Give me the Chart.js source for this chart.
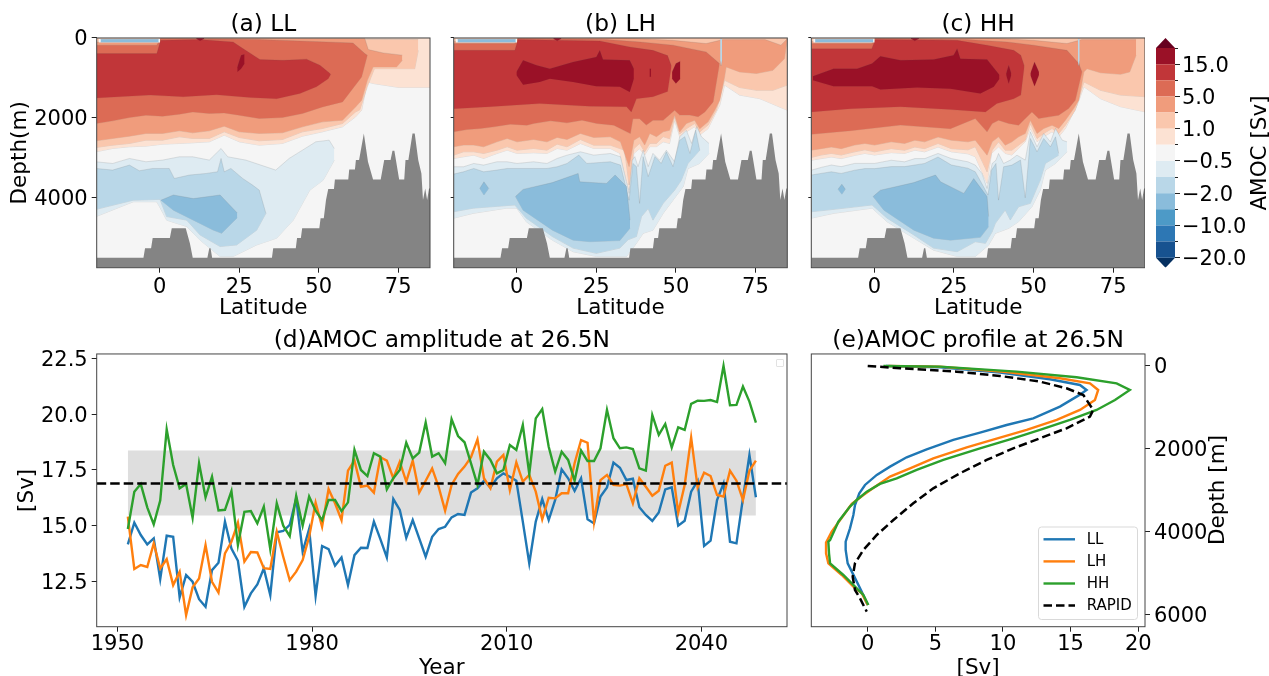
<!DOCTYPE html>
<html>
<head>
<meta charset="utf-8">
<title>AMOC</title>
<script src="https://cdn.jsdelivr.net/npm/chart.js@4/dist/chart.umd.min.js"></script>
<style>
  html, body { margin: 0; padding: 0; background: #fff; overflow: hidden; width: 1269px; height: 676px; }
  canvas { position: absolute; }
  #emptyLegend { position: absolute; left: 776px; top: 359px; width: 6px; height: 6px; border: 1px solid #e2e2e2; border-radius: 1px; }
</style>
</head>
<body>
<canvas id="panelA" width="440" height="330" style="left:0;top:0"></canvas>
<canvas id="panelB" width="360" height="330" style="left:440px;top:0"></canvas>
<canvas id="panelC" width="345" height="330" style="left:800px;top:0"></canvas>
<canvas id="colorbar" width="119" height="300" style="left:1150px;top:0"></canvas>
<canvas id="panelD" width="797" height="380" style="left:0;top:316px"></canvas>
<canvas id="panelE" width="469" height="380" style="left:800px;top:316px"></canvas>
<div id="emptyLegend"></div>
<script>
"use strict"

// ---- tick labels and colour levels
const latTicks = [0, 25, 50, 75];
const depthTicks = [0, 2000, 4000];
const yearTicks = [1950, 1980, 2010, 2040];
const svTicks = [12.5, 15, 17.5, 20, 22.5];
const profileTicks = [0, 5, 10, 15, 20];
const profileDepthTicks = [0, 2000, 4000, 6000];
const cbarLabels = ['\u221220.0', '', '\u221210.0', '', '\u22122.0', '', '\u22120.5', '', '1.0', '', '5.0', '', '15.0', ''];

const C15 = '#9a1127', C10 = '#c13639', C5 = '#dc6b55', C2 = '#f09c7c', C1 = '#fac7ad', C05 = '#fce2d3', C0 = '#f5f5f5';
const N05 = '#deebf2', N1 = '#b9d7e8', N2 = '#8abcdb', N5 = '#4d9ac7', N10 = '#2d77b4', N15 = '#175290';
const cbarColors = [N15, N10, N5, N2, N1, N05, C0, C05, C1, C2, C5, C10, C15];

// ---- sea floor, shared by the three sections: [lat, depth]
const seaFloor = [[-19.8,5500],[-5.1,5500],[-4.6,5265],[-2.7,5265],[-2.2,5007],[3.2,5007],[3.8,4765],[8.2,4765],[9.5,5140],[10.4,5500],[15,5500],[15.6,5265],[16,5265],[16.5,5500],[35.3,5500],[35.7,5265],[42.8,5265],[43.2,5007],[44.4,5007],[44.8,4765],[50.2,4765],[50.6,4515],[51.6,4515],[52.3,4057],[53,3782],[54.8,3782],[55.1,3540],[59.3,3540],[59.6,3290],[61.4,3290],[61.7,3057],[62.7,3057],[64.2,2391],[65.5,3099],[67.1,3540],[69.5,3540],[70.6,3057],[72.6,3057],[73.2,2824],[73.8,2824],[75.3,3540],[76.9,3540],[77.3,3057],[78.2,3057],[79.5,2391],[80.2,2391],[81.3,3057],[82.3,3390],[82.8,4057],[83.5,3765],[84.1,4057],[84.7,3765],[85,3765]];

// ---- features shared by the sections
const surface = [[-19.8,0],[85,0]];
const seaBed = [[-19.8,5750],[85,5750]];
const sliverOuterTop = [[-19.2,20],[0.1,20]];
const sliverOuterBot = [[-19.2,115],[0.1,115]];
const sliverTop = [[-18.6,35],[-0.3,35]];
const sliverBot = [[-18.6,105],[-0.3,105]];
const surfaceSpeckTop = [[11.5,0],[14,0]];
const surfaceSpeckBot = [[11.5,20],[12.7,70],[14,20]];
const stripeTop = [[63.9,20],[64.5,20]];
const stripeBot = [[63.9,560],[64.2,700],[64.5,560]];

// ---- (a) LL contour edges: [lat, depth]
const aPos05Bot = [[-20,2849],[-14.8,2766],[-9.5,2724],[-4.3,2708],[0.9,2658],[6.2,2641],[10.4,2624],[15.6,2599],[20.3,2433],[25,2599],[31.3,2683],[38.6,2641],[44.9,2458],[51.2,2349],[57.5,2224],[61.6,1975],[63.5,1810],[65.3,1100],[67.1,1140],[75.3,1240],[85,1240]];
const aPos1Top = [[-20,0],[81.3,40]];
const aPos1Bot = [[-20,2741],[-14.8,2683],[-9.5,2641],[-4.3,2558],[0.9,2558],[6.2,2474],[10.4,2516],[15.6,2516],[20.3,2349],[25,2491],[31.3,2574],[38.6,2541],[44.9,2349],[51.2,2266],[57.5,2141],[61.6,1850],[62.9,1800],[65.3,1220],[67.5,770],[80.2,770],[81.3,310]];
const aPos2Top = [[-20,100],[-0.9,100],[0.3,0],[64.5,15],[65.6,290],[70.3,375],[76.3,430]];
const aPos2Bot = [[-20,2574],[-14.8,2516],[-9.5,2458],[-4.3,2391],[0.9,2391],[6.2,2324],[10.4,2374],[15.6,2324],[20.3,2208],[25,2349],[31.3,2391],[38.6,2374],[44.9,2224],[51.2,2100],[57.5,2058],[61.6,1725],[63.5,1560],[65.3,1060],[67.1,725],[74.5,725],[76.3,560]];
const aPos5Top = [[-20,180],[-0.9,180],[0.3,10],[31.5,40],[44.1,75],[60.8,125],[64.5,390],[65.3,430]];
const aPos5Bot = [[-20,2141],[-14.8,2074],[-9.5,1991],[-4.3,1933],[0.9,1958],[6.2,1908],[10.4,1850],[15.6,1891],[20.3,1875],[25,1933],[31.3,2016],[38.6,1991],[44.9,1891],[51.2,1725],[57.5,1600],[63.5,975],[65.3,430]];
const aPos10Top = [[-20,390],[-0.9,390],[0.3,60],[12.7,40],[23.1,100],[26.3,270],[31.5,540],[38.8,560],[46.2,530],[50.4,680],[53,850],[53.8,910]];
const aPos10Bot = [[-20,1500],[-3,1430],[7.4,1470],[17.9,1420],[28.4,1490],[36.8,1520],[44.1,1390],[49.3,1220],[53,1020],[53.8,910]];
const aPos15Top = [[24.4,730],[25.6,430],[26.7,410]];
const aPos15Bot = [[24.4,850],[25.6,770],[26.7,640]];
const aNeg05Top = [[-20,3099],[-14.8,3141],[-9.5,3016],[-4.3,3099],[0.9,3057],[6.2,2974],[10.4,2974],[15.6,3057],[19.3,2766],[21.4,2974],[27.1,3057],[36.5,3307],[40.7,3016],[44.9,2808],[49.1,2599],[53.3,2558],[54.9,2766]];
const aNeg05Bot = [[-20,4470],[-8.3,4100],[-0.9,4100],[1.1,4390],[2.2,4560],[8.5,4720],[12.7,5060],[19,5470],[23.1,5470],[30.5,5180],[36.8,5010],[42,4560],[47.2,3810],[51.4,3560],[54.9,3060]];
const aNeg1Top = [[-20,3266],[-14.8,3307],[-9.5,3182],[-6.4,3324],[-2.2,3266],[3,3266],[4.6,3516],[9.3,3432],[14.6,3391],[18.2,3349],[19.3,3016],[20.3,3349],[22.4,3266],[26.1,3516],[29.2,3682],[31.3,3807],[33.4,4390]];
const aNeg1Bot = [[-20,4290],[-8.3,4060],[0.1,4040],[2.2,4470],[8.5,4560],[12.7,4930],[19,5220],[24.2,5180],[30.5,4810],[33.4,4390]];
const aNeg2Top = [[0.4,4060],[4.3,3930],[10.6,4020],[19,3930],[24.4,4380]];
const aNeg2Bot = [[0.4,4060],[4.3,4310],[10.6,4560],[16.9,4810],[19.5,4890],[24.4,4500]];

// ---- (b) LH contour edges
const bPos05Bot = [[-19.8,3016],[-16.7,2974],[-13.5,2933],[-10.4,3016],[-6.2,2891],[-3,2808],[0.1,2891],[5.3,2874],[9.5,2891],[12.7,2766],[15.8,2808],[20,2641],[24.2,2766],[29.4,2766],[32.4,2890],[35.3,3810],[36.8,2890],[38.6,2770],[40.2,2930],[41.8,2720],[43.9,2720],[46,2600],[48,2640],[49.6,2060],[51.2,2470],[53.3,2350],[55.9,2220],[57.5,2430],[60.1,2270],[63.8,1680],[65.3,1180],[70,1430],[76.4,1520],[85,1810]];
const bPos1Bot = [[-19.8,2933],[-16.7,2849],[-13.5,2849],[-10.4,2891],[-6.2,2808],[-3,2724],[0.1,2808],[5.3,2766],[9.5,2808],[12.7,2658],[15.8,2724],[20,2541],[24.2,2683],[29.4,2683],[33.9,2810],[35.3,3680],[36.8,2770],[38.6,2640],[40.2,2850],[41.8,2640],[43.9,2640],[46,2470],[48,2520],[49.6,1970],[51.2,2400],[53.3,2270],[55.9,2140],[57.5,2350],[60.1,2180],[62.7,1810],[65.3,1060],[70,1240],[75.3,1310],[80.5,1310],[85,1180]];
const bPos2Top = [[-19.8,90],[-0.6,90],[0.4,0],[33.4,0],[49.1,60],[59.5,140],[64.8,40],[78,40],[83,180],[85,20]];
const bPos2Bot = [[-19.8,2724],[-16.7,2680],[-13.5,2680],[-10.4,2724],[-6.2,2600],[-3,2516],[0.1,2600],[5.3,2540],[9.5,2600],[12.7,2490],[15.8,2540],[20,2391],[24.2,2490],[29.4,2474],[32.6,2600],[35.3,3220],[36.8,2560],[38.6,2470],[40.2,2680],[41.8,2390],[43.9,2470],[46,2350],[48,2310],[49.6,1930],[51.2,2350],[53.3,2140],[55.9,2060],[57.5,2270],[60.1,2100],[62.2,1810],[63.8,1558],[65.3,970],[65.8,725],[70,850],[75.3,890],[80.5,810],[84.1,520],[85,20]];
const bPos5Top = [[-19.8,140],[-0.6,140],[0.4,0],[28.2,40],[38.8,100],[49.1,180],[59.5,350],[63.7,640]];
const bPos5Bot = [[-19.8,2350],[-15.6,2291],[-11.4,2266],[-7.2,2224],[-2,2158],[3.2,2183],[5.3,2141],[10.6,2075],[15.8,2124],[20.5,2058],[25.2,2141],[30.5,2183],[34.6,2350],[35.7,2390],[36.5,2020],[38.6,2020],[40.7,2180],[42.8,2060],[46,2060],[49.6,1810],[51.2,1930],[54.4,1930],[57,1970],[59.1,1850],[61.7,1600],[63.7,640]];
const bPos10Top = [[-19.8,310],[-0.6,310],[0.4,40],[26.1,75],[35.5,225],[42.8,310],[47.4,440],[48.6,700]];
const bPos10Bot = [[-19.8,1770],[-8.5,1720],[7.2,1640],[22.9,1710],[34.5,1720],[36,1850],[37.6,1520],[42.8,1470],[47.4,1340],[48.6,700]];
const bPos15Top = [[-0.1,850],[2,560],[6.2,680],[10.4,770],[17.7,600],[25,475],[26.1,310],[27.1,540],[35.5,560],[36.8,770]];
const bPos15Bot = [[-0.1,930],[2,1170],[7.2,1100],[10.4,1020],[17.7,1100],[25,1210],[32.4,1220],[35.5,1350],[36.8,1020]];
const bSpotTop = [[48.8,850],[50,640],[51.4,580]];
const bSpotBot = [[48.8,1020],[50,1140],[51.4,1020]];
const bSpeckTop = [[41.7,770],[42.2,770]];
const bSpeckBot = [[41.7,970],[42.2,970]];
const bNeg05Top = [[-19.8,3224],[-16.7,3224],[-13.5,3141],[-10.4,3182],[-6.2,3099],[-3,3099],[0.1,3141],[5.3,3099],[9.5,3141],[12.7,3016],[15.8,2933],[20,2849],[24.2,2933],[29.4,2891],[32.6,2974],[35.3,3890],[36.3,3060],[37.1,2970],[38.1,3220],[39.7,2810],[41.3,3220],[42.8,2890],[44.9,3060],[47,2810],[49.6,3100],[51.2,2470],[53.3,2310],[54.9,2640],[56.6,2220],[58,2470],[60.4,2640]];
const bNeg05Bot = [[-19.8,4510],[-13.7,4390],[-3.2,4260],[0,4260],[3,4600],[11.2,5060],[17.7,5350],[25,5470],[34.5,5470],[37.6,5140],[39.7,4890],[42.8,4810],[46,4390],[49.1,4060],[52.3,3720],[53.8,3270],[57.5,3140],[60.4,2890]];
const bNeg1Top = [[-19.8,3407],[-16.7,3349],[-13.5,3266],[-10.4,3349],[-6.2,3307],[-3,3266],[0.1,3266],[5.3,3266],[9.5,3266],[12.7,3224],[15.8,3141],[19.5,2932],[22,3141],[29.4,3099],[32.6,3182],[35.3,4060],[36.5,3140],[37.6,3220],[38.6,4140],[39.7,2970],[41.3,3470],[43.4,2970],[45.4,3140],[47,2850],[49.1,3220],[51.2,2560],[52.8,2470],[54.4,2890],[56.2,2310],[57.5,2810]];
const bNeg1Bot = [[-19.8,4350],[-13.7,4260],[-0.6,4180],[3,4510],[11.2,4970],[17.7,5260],[25,5390],[32.4,5260],[35,5050],[37.6,4970],[39.2,4470],[41.3,4270],[42.8,4560],[46,4140],[49.6,3810],[51.7,3560],[53.8,3140],[57.5,2810]];
const bNeg2Top = [[-0.4,3970],[2,3790],[11.2,3620],[19.3,3390],[19.8,3600],[28.2,3640],[30.9,3430],[34.5,3720],[35.6,4560]];
const bNeg2Bot = [[-0.4,3970],[2,4310],[11.2,4810],[17.7,5060],[23,5100],[32.4,5070],[35.6,4760]];
const bDiamondTop = [[-11.6,3765],[-10.3,3600],[-8.8,3765]];
const bDiamondBot = [[-11.6,3765],[-10.3,3930],[-8.8,3765]];

// ---- (c) HH contour edges
const cPos05Bot = [[-19.8,3060],[-16.7,3020],[-13.5,2980],[-10.4,3020],[-6.2,2940],[-3,2890],[0.1,2930],[5.3,2870],[9.5,2890],[12.7,2810],[15.8,2850],[20,2730],[24.2,2850],[29.4,2900],[31.7,2974],[35.4,3640],[36.8,2891],[39,2724],[41.1,2891],[43.2,2930],[45.3,2766],[47.4,2599],[49,2266],[51.1,2599],[53.2,2474],[55.8,2349],[57.9,2474],[60,2266],[63.7,1683],[65.8,1220],[71,1520],[77.3,1720],[85,1850]];
const cPos1Bot = [[-19.8,2990],[-16.7,2930],[-13.5,2890],[-10.4,2930],[-6.2,2850],[-3,2800],[0.1,2850],[5.3,2770],[9.5,2810],[12.7,2730],[15.8,2770],[20,2640],[24.2,2770],[29.4,2800],[31.7,2724],[35.4,3349],[37,2808],[39,2600],[41.1,2808],[43.2,2808],[45.3,2683],[47.4,2558],[49,2141],[51.1,2516],[53.2,2391],[55.8,2266],[57.9,2391],[60,2183],[63.1,1810],[65.8,1100],[71,1310],[77.3,1430],[85,1470]];
const cPos2Top = [[-19.8,90],[-0.8,90],[0.3,0],[35.4,0],[50,60],[60.5,140],[65.2,40],[75,40],[82.2,40]];
const cPos2Bot = [[-19.8,2810],[-16.7,2770],[-13.5,2730],[-10.4,2770],[-6.2,2680],[-3,2640],[0.1,2680],[5.3,2600],[9.5,2640],[12.7,2560],[15.8,2600],[20,2480],[24.2,2560],[29.4,2600],[31.7,2558],[35.4,2933],[37,2600],[39,2474],[41.1,2683],[43.2,2600],[45.3,2474],[47.4,2391],[49,2058],[51.1,2391],[53.2,2266],[55.8,2183],[57.9,2266],[60,2058],[62.6,1766],[64.2,1558],[65.8,850],[66.8,770],[71,870],[77.3,910],[80.2,850],[82.2,430]];
const cPos5Top = [[-19.8,140],[-0.8,140],[0.3,0],[29.1,40],[41.7,100],[50,180],[60.5,310],[64.2,640],[65.2,850]];
const cPos5Bot = [[-19.8,2410],[-7.5,2320],[8.2,2180],[23.9,2270],[31.7,2016],[35.4,2349],[37,2141],[39,2058],[42.2,2141],[45.3,2183],[47.4,2016],[49.5,1850],[51.6,2016],[54.8,1975],[57.9,1933],[61,1766],[63.1,1558],[65.2,850]];
const cPos10Top = [[-19.8,270],[-0.8,270],[0.3,40],[26,60],[35.4,180],[43.8,310],[46,430],[47.1,700]];
const cPos10Bot = [[-19.8,1850],[-7.5,1770],[8.2,1720],[23.9,1790],[34.9,1850],[38.5,1640],[43.8,1520],[46,1430],[47.1,700]];
const cPos15Top = [[-19.3,960],[-12.8,770],[-5.4,770],[-0.7,640],[1.9,460],[8.2,560],[18.6,540],[24.9,430],[26,270],[27,520],[35.4,540],[39.3,930]];
const cPos15Bot = [[-19.3,1060],[-12.8,1210],[-5.4,1210],[-0.7,1210],[1.9,1290],[13.4,1240],[23.9,1270],[33.3,1390],[37.5,1220],[39.3,1020]];
const cSpotATop = [[41.4,890],[42.2,680],[43,890]];
const cSpotABot = [[41.4,930],[42.2,1140],[43,930]];
const cSpotBTop = [[49,890],[50.3,600],[51.7,850]];
const cSpotBBot = [[49,930],[50.3,1210],[51.7,930]];
const cNeg05Top = [[-19.8,3310],[-16.7,3240],[-13.5,3180],[-10.4,3220],[-6.2,3140],[-3,3140],[0.1,3140],[5.3,3060],[9.5,3100],[12.7,3020],[15.8,3020],[20,2890],[24.2,3020],[29.4,3100],[31.7,3182],[33.8,3391],[35.4,3766],[37,3141],[38.2,3060],[39,2891],[40.6,3141],[42.7,3057],[44.8,2933],[47.4,3057],[49,2349],[51.1,2724],[53.2,2391],[55.3,2600],[56.9,2266],[59,2558],[60.5,2600]];
const cNeg05Bot = [[-19.8,4510],[-12.8,4390],[-0.7,4260],[4,4600],[12.4,5010],[18.6,5310],[26,5470],[31.7,5470],[35.9,5182],[38,4890],[42.2,4765],[45.3,4599],[49.5,4224],[52.1,3807],[53.7,3307],[56.9,3141],[60.5,2849]];
const cNeg1Top = [[-19.8,3430],[-16.7,3390],[-13.5,3350],[-10.4,3390],[-6.2,3310],[-3,3270],[0.1,3270],[5.3,3220],[9.5,3220],[12.7,3180],[15.8,3140],[20,2980],[24.2,3180],[29.4,3260],[31.7,3349],[34.3,3724],[35.7,3932],[36.8,3307],[38.2,3141],[39,4057],[40.6,3224],[43.2,3182],[45.9,3057],[47.4,4000],[49,2516],[51.1,2849],[53.2,2516],[55.3,2724],[56.9,2474],[57.9,2891]];
const cNeg1Bot = [[-19.8,4350],[-12.8,4290],[-0.7,4180],[4,4510],[12.4,4930],[18.6,5260],[26,5350],[31.7,5100],[34.9,5140],[37,4849],[38,4640],[41.1,4307],[42.7,4557],[45.3,4224],[49,4140],[52.1,3558],[53.7,3141],[57.9,2933]];
const cNeg2Top = [[-0.4,3970],[1.9,3810],[12.4,3620],[19.2,3430],[20.8,3600],[28.1,3890],[31.2,3520],[35.4,3970],[35.9,4470]];
const cNeg2Bot = [[-0.4,3970],[3,4310],[12.4,4810],[18.6,5010],[23.9,5060],[33.3,4990],[35.9,4720]];
const cDiamondTop = [[-11.4,3785],[-10.2,3660],[-9.1,3785]];
const cDiamondBot = [[-11.4,3785],[-10.2,3910],[-9.1,3785]];

// ---- (d) amplitude time series
const firstYear = 1951.6;
const amocLL = [14.17,15.14,14.59,14.17,14.44,12.62,14.56,14.51,11.80,12.80,12.50,11.72,11.38,13.02,13.35,15.19,13.99,13.44,11.38,11.98,12.38,13.10,11.90,14.71,14.77,15.04,16.23,13.84,14.86,11.87,14.10,13.96,13.22,13.59,12.35,13.69,14.02,14.01,15.19,14.41,13.59,16.20,15.71,14.47,15.26,14.44,13.62,14.51,14.86,14.96,15.38,15.53,15.49,16.49,16.68,17.02,16.72,17.13,17.35,17.20,17.02,15.19,13.32,15.19,16.20,15.26,16.16,17.53,17.13,16.57,17.13,15.29,15.11,16.31,16.72,17.83,17.60,17.05,17.11,15.83,15.49,15.22,15.60,16.63,16.72,15.01,15.23,16.53,17.01,14.10,14.34,16.16,16.90,14.29,14.22,16.23,18.17,16.28];
const amocLH = [15.41,13.07,13.25,13.16,14.22,13.10,13.51,12.35,12.95,11.01,12.25,12.65,14.14,12.50,12.02,13.77,14.29,15.14,13.40,13.83,13.81,13.11,13.07,14.74,13.62,12.57,12.95,13.47,14.51,16.04,14.96,16.65,16.01,15.26,17.47,17.92,16.75,16.80,16.49,18.07,17.92,17.13,17.87,16.98,17.92,16.49,17.02,17.57,16.75,15.68,16.83,17.32,17.65,18.07,18.87,17.13,16.68,17.87,18.17,16.60,17.84,16.98,17.28,16.53,15.29,16.26,16.23,16.46,16.46,17.80,18.84,18.72,15.19,17.05,17.28,16.83,16.80,16.87,16.01,17.13,16.75,16.35,16.57,17.69,17.83,15.59,16.83,18.95,16.72,17.38,17.23,16.38,16.31,17.47,17.02,16.16,17.47,17.92];
const amocHH = [14.86,16.53,16.87,15.83,15.07,16.13,19.32,17.72,16.68,16.87,15.37,17.80,16.28,17.20,15.69,15.72,16.56,14.14,15.63,15.66,15.11,15.86,13.96,16.01,15.01,14.54,16.34,15.01,16.31,15.68,15.26,16.16,16.16,15.66,16.05,18.40,17.50,17.23,18.25,18.10,16.63,17.13,17.50,18.72,18.02,18.28,19.62,18.10,18.25,17.80,19.77,19.02,18.74,17.80,16.83,18.32,17.95,17.35,17.50,18.62,18.40,19.51,17.32,19.81,20.22,18.54,17.43,18.32,17.95,17.02,18.37,17.90,17.90,18.47,20.19,18.92,18.47,18.51,18.44,17.57,17.47,19.96,19.07,19.56,18.50,19.41,19.29,20.46,20.60,20.59,20.63,20.54,22.16,20.40,20.41,21.23,20.56,19.62];
const rapidMean = 16.9;
const rapidLow = 15.46;
const rapidHigh = 18.37;

// ---- (e) profiles at 26.5N
const profileLL = [1.35,5.34,9.78,13.47,15.69,16.18,15.57,14.21,12.24,10.27,8.30,6.33,4.36,2.88,1.65,0.67,-0.20,-0.62,-0.94,-1.06,-1.31,-1.63,-1.63,-1.48,-0.99,-0.44,0];
const depthLL = [0,32,161,321,458,578,715,980,1261,1422,1606,1783,2008,2201,2426,2626,2867,3068,3349,3590,3912,4233,4434,4755,5076,5438,5759];
const profileLH = [1.53,5.34,10.27,14.21,16.43,17.04,16.80,15.69,13.97,11.75,9.78,7.32,4.85,3.13,1.65,0.54,-0.32,-1.18,-2.04,-2.66,-3.08,-3.08,-2.91,-1.92,-1.06,-0.44,0];
const depthLH = [0,16,145,297,418,578,819,1060,1301,1542,1727,1960,2225,2466,2666,2908,3108,3325,3711,3992,4257,4514,4755,5036,5317,5478,5759];
const profileHH = [1.16,5.34,11.01,15.44,18.40,19.38,18.28,16.92,14.95,12.73,10.76,8.30,5.59,3.62,2.14,0.91,-0.07,-0.81,-1.31,-2.17,-2.78,-2.91,-2.86,-2.78,-1.80,-0.94,-0.32,0.05];
const depthHH = [0,16,137,273,418,578,819,1060,1301,1542,1743,1984,2265,2506,2707,2843,3028,3229,3389,3751,4193,4233,4514,4755,5036,5317,5518,5759];
const profileRapid = [0,2.39,6.58,9.78,12.73,14.70,15.94,16.67,16.43,14.70,12.73,10.76,8.79,6.82,4.85,3.37,1.90,0.67,-0.32,-0.94,-1.11,-0.94,-0.57,-0.07];
const depthRapid = [0,56,137,241,377,538,699,1060,1221,1502,1743,1984,2265,2586,2948,3309,3711,4072,4434,4755,5076,5397,5598,5920];

const BLUE = '#1f77b4', ORANGE = '#ff7f0e', GREEN = '#2ca02c';
const FONT = 'DejaVu Sans';
const SPINE = '#444';
const TICK_SIZE = 21, LABEL_SIZE = 21.5, TITLE_SIZE = 23.3;
const LINE_W = 2.4;

Chart.defaults.font.family = FONT;
Chart.defaults.color = '#000';

const pts = arr => arr.map(p => ({x: p[0], y: p[1]}));
const zip = (xs, ys) => xs.map((x, i) => ({x: x, y: ys[i]}));

// black frame round the plot, and the upward reading label on right hand axes
const framePlugin = {
  id: 'frame',
  afterDraw(chart) {
    const a = chart.chartArea, ctx = chart.ctx;
    ctx.save();
    ctx.strokeStyle = SPINE;
    ctx.lineWidth = 1;
    ctx.strokeRect(a.left, a.top, a.right - a.left, a.bottom - a.top);
    ctx.restore();
  }
};
const sideLabel = (text, x, y) => ({
  id: 'sideLabel',
  afterDraw(chart) {
    const ctx = chart.ctx;
    ctx.save();
    ctx.translate(x, y);
    ctx.rotate(-Math.PI / 2);
    ctx.font = LABEL_SIZE + 'px "' + FONT + '"';
    ctx.fillStyle = '#000';
    ctx.textAlign = 'center';
    ctx.textBaseline = 'middle';
    ctx.fillText(text, 0, 0);
    ctx.restore();
  }
});

const titleOpts = text => ({
  display: true, text: text, fullSize: false,
  font: {size: TITLE_SIZE, weight: 'normal'},
  padding: {top: 11, bottom: -1}
});
const fixedTicks = values => scale => { scale.ticks = values.map(v => ({value: v})); };
const gridOpts = {display: true, drawOnChartArea: false, drawTicks: true, tickLength: 5, tickColor: '#222', color: '#222'};
const tickFont = {size: TICK_SIZE};

// bands are listed back to front; chart.js paints dataset 0 last, so they are pushed reversed
function sectionDatasets(bands) {
  let sets = [{
    data: pts(seaFloor), backgroundColor: '#848484', borderWidth: 0, pointRadius: 0,
    fill: {value: 5750}, showLine: true
  }];
  bands.slice().reverse().forEach(band => {
    const edge = band[0] == C0 ? 'rgba(0,0,0,0)' : band[0] == C15 || band[0] == C10 ? 'rgba(90,90,90,0.25)' : 'rgba(110,110,110,0.35)';
    sets.push({data: pts(band[1]), backgroundColor: band[0], borderColor: edge, borderWidth: 0.5, pointRadius: 0, fill: '+1', showLine: true});
    sets.push({data: pts(band[2]), borderColor: edge, borderWidth: 0.5, pointRadius: 0, fill: false, showLine: true});
  });
  return sets;
}

function sectionChart(id, title, leftWidth, rightPad, bands, showDepth) {
  return new Chart(document.getElementById(id), {
    type: 'scatter',
    data: {datasets: sectionDatasets(bands)},
    plugins: [framePlugin],
    options: {
      responsive: false, animation: false,
      layout: {padding: {right: rightPad}},
      plugins: {legend: {display: false}, tooltip: {enabled: false}, title: titleOpts(title)},
      scales: {
        x: {
          type: 'linear', min: -19.8, max: 85,
          afterBuildTicks: fixedTicks(latTicks),
          afterFit: s => { s.height = 62.3; },
          grid: gridOpts, border: {display: false},
          ticks: {font: tickFont, padding: 2, autoSkip: false, maxRotation: 0, callback: v => String(v)},
          title: {display: true, text: 'Latitude', font: {size: LABEL_SIZE}, padding: {top: 0, bottom: 9}}
        },
        y: {
          type: 'linear', min: 0, max: 5750, reverse: true,
          afterBuildTicks: fixedTicks(depthTicks),
          afterFit: s => { s.width = leftWidth; },
          grid: Object.assign({}, gridOpts, {tickLength: showDepth ? 5 : 3}), border: {display: false},
          ticks: {font: tickFont, padding: 4, labelOffset: 2, autoSkip: false, display: showDepth, callback: v => String(v)},
          title: {display: showDepth, text: 'Depth(m)', font: {size: LABEL_SIZE}, padding: {top: 8, bottom: 0}}
        }
      }
    }
  });
}

const sliverBands = [[C0, sliverOuterTop, sliverOuterBot], [N2, sliverTop, sliverBot], [C15, surfaceSpeckTop, surfaceSpeckBot]];
const stripeBands = [[N1, stripeTop, stripeBot]];

sectionChart('panelA', '(a) LL', 96.7, 10, [
  [C0, surface, seaBed],
  [C05, surface, aPos05Bot], [C1, aPos1Top, aPos1Bot], [C2, aPos2Top, aPos2Bot], [C5, aPos5Top, aPos5Bot],
  [C10, aPos10Top, aPos10Bot], [C15, aPos15Top, aPos15Bot],
  [N05, aNeg05Top, aNeg05Bot], [N1, aNeg1Top, aNeg1Bot], [N2, aNeg2Top, aNeg2Bot]
].concat(sliverBands), true);
sectionChart('panelB', '(b) LH', 13.7, 12.7, [
  [C0, surface, seaBed],
  [C05, surface, bPos05Bot], [C1, surface, bPos1Bot], [C2, bPos2Top, bPos2Bot], [C5, bPos5Top, bPos5Bot],
  [C10, bPos10Top, bPos10Bot], [C15, bPos15Top, bPos15Bot], [C15, bSpotTop, bSpotBot], [C15, bSpeckTop, bSpeckBot],
  [N05, bNeg05Top, bNeg05Bot], [N1, bNeg1Top, bNeg1Bot], [N2, bNeg2Top, bNeg2Bot], [N2, bDiamondTop, bDiamondBot]
].concat(stripeBands, sliverBands), false);
sectionChart('panelC', '(c) HH', 11.3, 0, [
  [C0, surface, seaBed],
  [C05, surface, cPos05Bot], [C1, surface, cPos1Bot], [C2, cPos2Top, cPos2Bot], [C5, cPos5Top, cPos5Bot],
  [C10, cPos10Top, cPos10Bot], [C15, cPos15Top, cPos15Bot], [C15, cSpotATop, cSpotABot], [C15, cSpotBTop, cSpotBBot],
  [N05, cNeg05Top, cNeg05Bot], [N1, cNeg1Top, cNeg1Bot], [N2, cNeg2Top, cNeg2Bot], [N2, cDiamondTop, cDiamondBot]
].concat(stripeBands, sliverBands), false);

// ---- colour bar: one filled step per level, on an index scale
const nBands = cbarColors.length;
const cbarSets = cbarColors.map((c, i) => ({
  data: [{x: 0, y: i + 1}, {x: 1, y: i + 1}], backgroundColor: c, borderWidth: 0, pointRadius: 0,
  fill: {value: i}, showLine: true
}));
cbarSets.push({data: [{x: 0, y: nBands}, {x: 0.5, y: nBands + 0.62}, {x: 1, y: nBands}], backgroundColor: '#67001f', borderWidth: 0, pointRadius: 0, fill: {value: nBands}, showLine: true});
cbarSets.push({data: [{x: 0, y: 0}, {x: 0.5, y: -0.62}, {x: 1, y: 0}], backgroundColor: '#053061', borderWidth: 0, pointRadius: 0, fill: {value: 0}, showLine: true});

new Chart(document.getElementById('colorbar'), {
  type: 'scatter',
  data: {datasets: cbarSets},
  plugins: [sideLabel('AMOC [Sv]', 110, 153)],
  options: {
    responsive: false, animation: false,
    layout: {padding: {left: 6, top: 38, bottom: 32.3}},
    plugins: {legend: {display: false}, tooltip: {enabled: false}},
    scales: {
      x: {type: 'linear', min: 0, max: 1, display: false},
      yMinor: {
        type: 'linear', axis: 'y', position: 'right', weight: -1, min: -0.62, max: nBands + 0.62,
        afterBuildTicks: fixedTicks(cbarLabels.map((t, i) => i).filter(i => i % 2 == 1)),
        afterFit: s => { s.width = 0; },
        grid: Object.assign({}, gridOpts, {tickLength: 3}), border: {display: false},
        ticks: {display: false}
      },
      y: {
        type: 'linear', position: 'right', weight: 1, min: -0.62, max: nBands + 0.62,
        afterBuildTicks: fixedTicks(cbarLabels.map((t, i) => i).filter(i => i % 2 == 0)),
        afterFit: s => { s.width = 94; },
        grid: gridOpts, border: {display: false},
        ticks: {font: tickFont, padding: 2, labelOffset: 2, autoSkip: false, callback: v => cbarLabels[v]}
      }
    }
  }
});

// ---- (d) time series
const yearsOf = series => series.map((v, i) => firstYear + i * 0.998);
const lastYear = yearsOf(amocLL)[amocLL.length - 1];
new Chart(document.getElementById('panelD'), {
  type: 'scatter',
  data: {datasets: [
    {data: [{x: 1946.8, y: rapidMean}, {x: 2053.2, y: rapidMean}], borderColor: '#000', borderWidth: 2.5, borderDash: [9.5, 4], pointRadius: 0, showLine: true},
    {data: zip(yearsOf(amocHH), amocHH), borderColor: GREEN, borderWidth: LINE_W, pointRadius: 0, showLine: true},
    {data: zip(yearsOf(amocLH), amocLH), borderColor: ORANGE, borderWidth: LINE_W, pointRadius: 0, showLine: true},
    {data: zip(yearsOf(amocLL), amocLL), borderColor: BLUE, borderWidth: LINE_W, pointRadius: 0, showLine: true},
    {data: [{x: firstYear, y: rapidHigh}, {x: lastYear, y: rapidHigh}], backgroundColor: '#dedede', borderWidth: 0, pointRadius: 0, fill: {value: rapidLow}, showLine: true}
  ]},
  plugins: [framePlugin],
  options: {
    responsive: false, animation: false,
    layout: {padding: {right: 10}},
    plugins: {legend: {display: false}, tooltip: {enabled: false}, title: titleOpts('(d)AMOC amplitude at 26.5N')},
    scales: {
      x: {
        type: 'linear', min: 1946.8, max: 2053.2,
        afterBuildTicks: fixedTicks(yearTicks),
        afterFit: s => { s.height = 69.3; },
        grid: gridOpts, border: {display: false},
        ticks: {font: tickFont, padding: 0, autoSkip: false, maxRotation: 0, callback: v => String(v)},
        title: {display: true, text: 'Year', font: {size: LABEL_SIZE}, padding: {top: 0, bottom: 15}}
      },
      y: {
        type: 'linear', min: 10.49, max: 22.69,
        afterBuildTicks: fixedTicks(svTicks),
        afterFit: s => { s.width = 96.7; },
        grid: gridOpts, border: {display: false},
        ticks: {font: tickFont, padding: 4, labelOffset: 2, autoSkip: false, callback: v => v.toFixed(1)},
        title: {display: true, text: '[Sv]', font: {size: LABEL_SIZE}, padding: {top: 15, bottom: 0}}
      }
    }
  }
});

// ---- (e) profiles; the legend sits inside the plot so it is painted here
const profileLegend = {
  id: 'profileLegend',
  afterDraw(chart) {
    const ctx = chart.ctx, ox = 800, oy = 316;
    ctx.save();
    ctx.beginPath();
    ctx.roundRect(1038.5 - ox, 527 - oy, 99, 92.5, 3);
    ctx.fillStyle = 'rgba(255,255,255,0.8)';
    ctx.fill();
    ctx.strokeStyle = '#d9d9d9';
    ctx.lineWidth = 1;
    ctx.stroke();
    ctx.font = '15px "' + FONT + '"';
    ctx.textBaseline = 'middle';
    [3, 2, 1, 0].forEach((dsIndex, row) => {
      const ds = chart.data.datasets[dsIndex];
      const y = 539.3 + row * 22.1 - oy;
      ctx.beginPath();
      ctx.setLineDash(ds.borderDash || []);
      ctx.strokeStyle = ds.borderColor;
      ctx.lineWidth = ds.borderWidth;
      ctx.moveTo(1043.5 - ox, y);
      ctx.lineTo(1075 - ox, y);
      ctx.stroke();
      ctx.setLineDash([]);
      ctx.fillStyle = '#000';
      ctx.fillText(ds.label, 1086.7 - ox, y + 1);
    });
    ctx.restore();
  }
};
new Chart(document.getElementById('panelE'), {
  type: 'scatter',
  data: {datasets: [
    {label: 'RAPID', data: zip(profileRapid, depthRapid), borderColor: '#000', borderWidth: 2.5, borderDash: [8.5, 4], pointRadius: 0, showLine: true},
    {label: 'HH', data: zip(profileHH, depthHH), borderColor: GREEN, borderWidth: LINE_W, pointRadius: 0, showLine: true},
    {label: 'LH', data: zip(profileLH, depthLH), borderColor: ORANGE, borderWidth: LINE_W, pointRadius: 0, showLine: true},
    {label: 'LL', data: zip(profileLL, depthLL), borderColor: BLUE, borderWidth: LINE_W, pointRadius: 0, showLine: true}
  ]},
  plugins: [framePlugin, profileLegend, sideLabel('Depth [m]', 418, 174)],
  options: {
    responsive: false, animation: false,
    layout: {padding: {left: 11.3}},
    plugins: {legend: {display: false}, tooltip: {enabled: false}, title: titleOpts('(e)AMOC profile at 26.5N')},
    scales: {
      x: {
        type: 'linear', min: -4.17, max: 20.5,
        afterBuildTicks: fixedTicks(profileTicks),
        afterFit: s => { s.height = 69.3; },
        grid: gridOpts, border: {display: false},
        ticks: {font: tickFont, padding: 0, autoSkip: false, maxRotation: 0, callback: v => String(v)},
        title: {display: true, text: '[Sv]', font: {size: LABEL_SIZE}, padding: {top: 0, bottom: 15}}
      },
      y: {
        type: 'linear', position: 'right', min: -289, max: 6282, reverse: true,
        afterBuildTicks: fixedTicks(profileDepthTicks),
        afterFit: s => { s.width = 124; },
        grid: gridOpts, border: {display: false},
        ticks: {font: tickFont, padding: 4, labelOffset: 2, autoSkip: false, callback: v => String(v)}
      }
    }
  }
});
</script>
</body>
</html>
